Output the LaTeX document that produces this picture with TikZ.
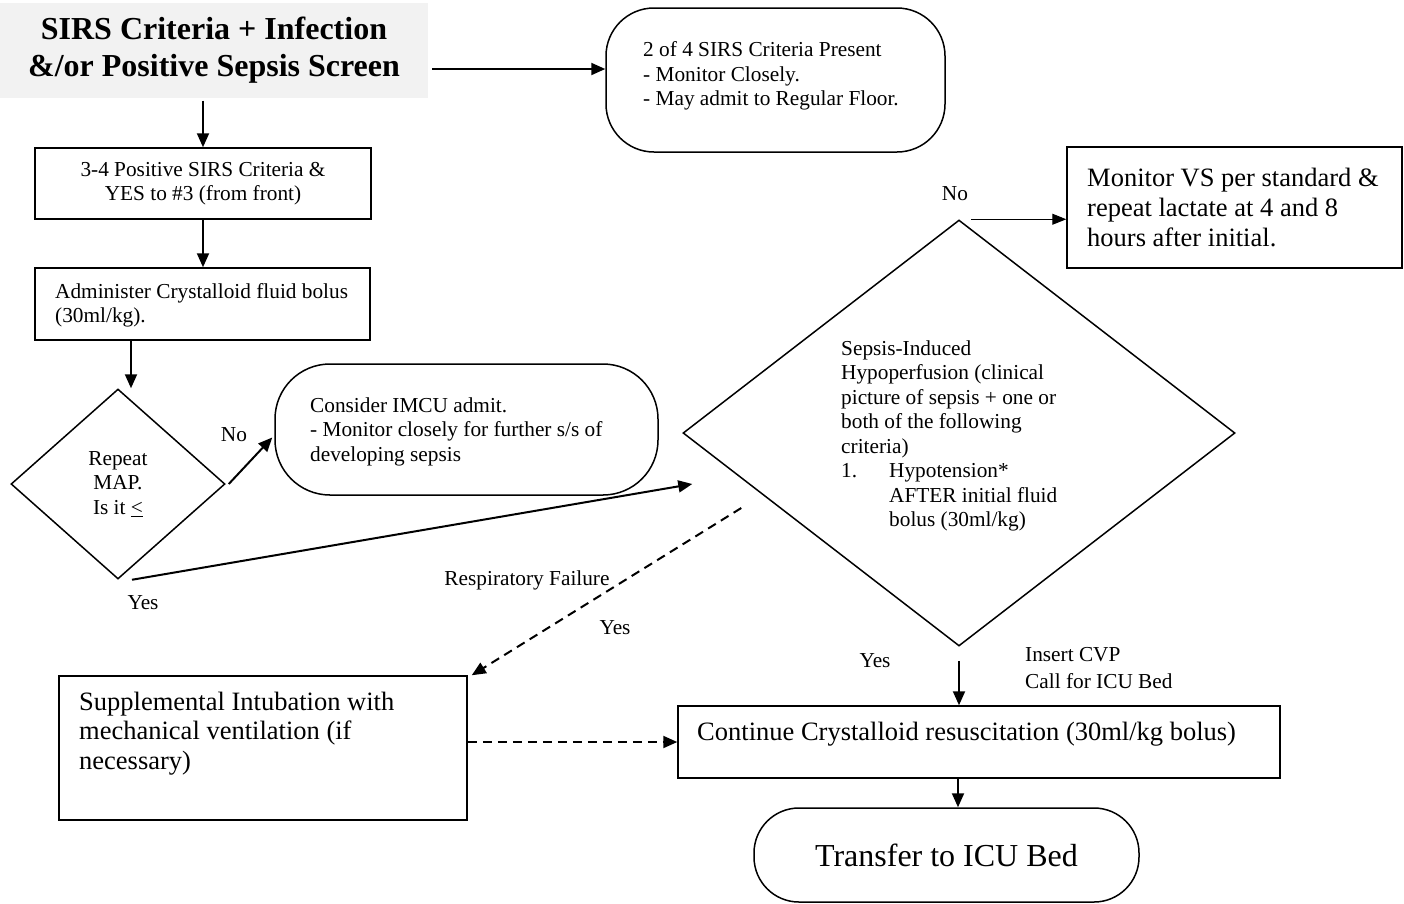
\documentclass[tikz,border=0pt]{standalone}
\usepackage{fontspec}
\setmainfont{Liberation Serif}
\usetikzlibrary{shapes.geometric,arrows.meta}
\definecolor{titlegray}{HTML}{F2F2F2}
\begin{document}
\begin{tikzpicture}[x=1pt,y=-1pt,
  box/.style={draw, line width=1.5pt, inner sep=0pt},
  sm/.style={font=\fontsize{21.3}{24.5}\selectfont},
  lg/.style={font=\fontsize{26.5}{29.8}\selectfont},
  txt/.style={inner sep=0pt, align=left, anchor=west},
  arr/.style={line width=2pt, -{Triangle[length=14pt,width=12pt]}},
  thinarr/.style={line width=1pt, -{Triangle[length=14pt,width=11pt]}},
  dasharr/.style={line width=2pt, dash pattern=on 9pt off 6pt, -{Triangle[length=14pt,width=12pt]}},
  lbl/.style={sm, inner sep=0pt}
]
\useasboundingbox (0,0) rectangle (1404,903);

% shapes
\node[fill=titlegray, inner sep=0pt, minimum width=428pt, minimum height=95pt,
      font=\bfseries\fontsize{32}{37}\selectfont, align=center] (A) at (214,50)
      {SIRS Criteria + Infection\\\&/or Positive Sepsis Screen};

\node[box, rounded corners=48pt, minimum width=339pt, minimum height=144pt] (B) at (775.5,80) {};
\node[txt, sm] (Btext) at (643,76)
      {2 of 4 SIRS Criteria Present\\- Monitor Closely.\\- May admit to Regular Floor.};

\node[box, minimum width=336pt, minimum height=71pt, sm, align=center] (C) at (203,183.5)
      {3-4 Positive SIRS Criteria \&\\YES to \#3 (from front)};

\node[box, minimum width=335pt, minimum height=72pt] (D) at (202.5,304) {};
\node[txt, sm] (Dtext) at (55,305.5)
      {Administer Crystalloid fluid bolus\\(30ml/kg).};

\node[diamond, draw, line width=1.5pt, inner sep=0pt, minimum width=214pt, minimum height=190pt,
      sm, align=center] (E) at (118,484)
      {Repeat\\MAP.\\Is it \underline{<}};

\node[box, rounded corners=55pt, minimum width=383pt, minimum height=131pt] (F) at (466.5,429.5) {};
\node[txt, sm] (Ftext) at (310,431.5)
      {Consider IMCU admit.\\- Monitor closely for further s/s of\\developing sepsis};

\node[diamond, draw, line width=1.5pt, inner sep=0pt, aspect=1.3, minimum width=552pt, minimum height=426pt] (G) at (959,433) {};
\node[txt, sm] (Gtext) at (841,436)
      {Sepsis-Induced\\Hypoperfusion (clinical\\picture of sepsis + one or\\both of the following\\criteria)\\\makebox[48pt][l]{1.}Hypotension*\\\hspace*{48pt}AFTER initial fluid\\\hspace*{48pt}bolus (30ml/kg)};

\node[box, minimum width=335pt, minimum height=121pt] (H) at (1234.5,207.5) {};
\node[txt, lg] (Htext) at (1087,207.5)
      {Monitor VS per standard \&\\repeat lactate at 4 and 8\\hours after initial.};

\node[box, minimum width=408pt, minimum height=144pt] (I) at (263,748) {};
\node[txt, lg] (Itext) at (79,733.5)
      {Supplemental Intubation with\\mechanical ventilation (if\\necessary)};

\node[box, minimum width=602pt, minimum height=72pt] (J) at (979,742) {};
\node[txt, lg] (Jtext) at (697,734)
      {Continue Crystalloid resuscitation (30ml/kg bolus)};

\node[box, rounded corners=45pt, minimum width=385pt, minimum height=94pt,
      font=\fontsize{32}{36}\selectfont] (K) at (946.5,855) {Transfer to ICU Bed};

% labels
\node[lbl] (noE) at (234,435) {No};
\node[lbl] (yesE) at (143,603) {Yes};
\node[lbl] (noG) at (955,194) {No};
\node[lbl] (resp) at (527,580) {Respiratory Failure};
\node[lbl] (yesR) at (615,628) {Yes};
\node[lbl] (yesG) at (875,661) {Yes};
\node[txt, font=\fontsize{21.3}{27}\selectfont] (cvp) at (1025,668.5)
      {Insert CVP\\Call for ICU Bed};

% connectors
\draw[arr] ([shift={(4pt,-19pt)}]A.east) -- ([yshift=11pt]B.west);
\draw[arr] ([yshift=-3pt]C.north |- A.south) -- (C.north);
\draw[arr] (C.south) -- (C.south |- D.north);
\draw[arr] ([xshift=-71.5pt]D.south) -- ([xshift=13pt]E.north);
\draw[arr] ([xshift=3pt]E.east) -- ([shift={(-2pt,-8pt)}]F.west);
\draw[arr] ([xshift=14pt]E.south) -- ([shift={(10pt,-51pt)}]G.west);
\draw[dasharr] ([shift={(59pt,-75pt)}]G.west) -- ([xshift=4pt]I.north east);
\draw[dasharr] (I.east |- J.west) -- (J.west);
\draw[arr] ([yshift=-14pt]G.south) -- (J.north -| G.south);
\draw[thinarr] ([xshift=12pt]G.north) -- (H.west |- G.north);
\draw[arr] ([xshift=-21pt]J.south) -- ([xshift=11.5pt]K.north);
\end{tikzpicture}
\end{document}
